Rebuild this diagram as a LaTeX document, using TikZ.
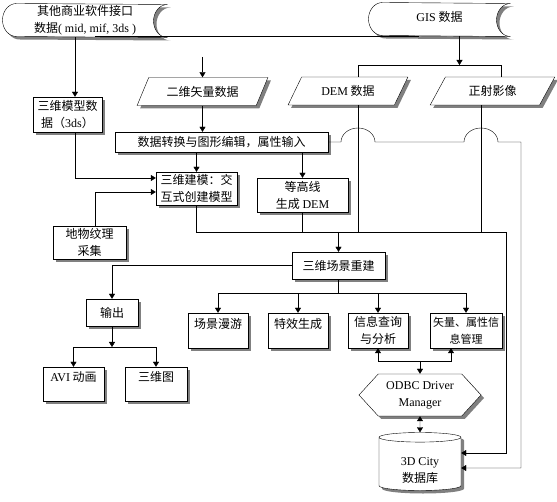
\documentclass[tikz,border=0pt]{standalone}
\usepackage{fontspec}
\setmainfont{Liberation Serif}
\newfontfamily\cjk{Noto Sans CJK SC}
\usetikzlibrary{shapes.geometric,shapes.symbols,shadows,arrows.meta}
\pgfdeclarelayer{bg}
\pgfsetlayers{bg,main}
\newcommand\storedpath[1]{([xshift=14pt]#1.north west) arc[start angle=90,end angle=270,x radius=14pt,y radius=16.5pt] -- (#1.south east) arc[start angle=270,end angle=90,x radius=14pt,y radius=16.5pt] -- cycle}
\newcommand\low[1]{\raisebox{-7pt}[9pt][3pt]{#1}}

\begin{document}
\begin{tikzpicture}[x=1pt,y=-1pt,line width=1pt,
  every node/.style={font=\cjk\fontsize{12}{17}\selectfont, inner sep=0pt, align=center},
  box/.style={draw, fill=white, drop shadow={shadow xshift=3pt, shadow yshift=-3pt, fill=gray, opacity=1}},
  io/.style={box, trapezium, trapezium left angle=55, trapezium right angle=125, trapezium stretches=true, minimum height=28},
  hi/.style={text depth=15pt},
  arr/.style={-{Triangle[width=6pt,length=5pt]}},
  dbl/.style={{Triangle[width=6pt,length=5pt]}-{Triangle[width=6pt,length=5pt]}}]
\useasboundingbox (0,0) rectangle (557,502);

\node[minimum width=164, minimum height=33] (src) at (85,20.5) {其他商业软件接口\\数据\textrm{( mid, mif, 3ds )}};
\node[minimum width=141, minimum height=33, text depth=6pt] (gis) at (439.5,19.5) {\textrm{GIS} 数据};
\begin{pgfonlayer}{bg}
\foreach \n in {src,gis} {
  \fill[gray, transform canvas={shift={(3pt,-3pt)}}] \storedpath{\n};
  \draw[fill=white] \storedpath{\n};
}
\end{pgfonlayer}

\node[box, minimum width=69, minimum height=35] (m3ds) at (67.5,114.5) {三维模型数\\据（\textrm{3ds}）};
\node[io, minimum width=131] (vec) at (202.5,91.5) {二维矢量数据};
\node[io, minimum width=120] (dem) at (348,91) {\textrm{DEM} 数据};
\node[io, minimum width=125] (ortho) at (492.5,91) {正射影像};
\node[box, minimum width=213, minimum height=20] (conv) at (221.5,142) {数据转换与图形编辑，属性输入};
\node[box, minimum width=81, minimum height=33] (model) at (196.5,188.5) {三维建模：交\\互式创建模型};
\node[box, minimum width=91, minimum height=34] (contour) at (302.5,195) {等高线\\生成 \textrm{DEM}};
\node[box, minimum width=73, minimum height=33] (tex) at (89.5,242.5) {地物纹理\\采集};
\node[box, minimum width=93, minimum height=27] (scene) at (338.5,265.5) {三维场景重建};
\node[box, minimum width=52, minimum height=27] (out) at (112,312.5) {输出};
\node[box, hi, minimum width=61, minimum height=34] (avi) at (73.5,384) {\textrm{AVI} 动画};
\node[box, hi, minimum width=62, minimum height=34] (map3d) at (156,384) {三维图};
\node[box, hi, minimum width=60, minimum height=35] (walk) at (218,330.5) {场景漫游};
\node[box, hi, minimum width=60, minimum height=35] (fx) at (298,330.5) {特效生成};
\node[box, minimum width=60, minimum height=35] (query) at (378,330.5) {信息查询\\与分析};
\node[box, minimum width=72, minimum height=35, font=\cjk\fontsize{11}{17}\selectfont] (attr) at (466,330.5) {矢量、属性信\\息管理};
\node[box, signal, signal to=east and west, signal pointer angle=95, minimum width=122, minimum height=42] (odbc) at (420,395) {\textrm{ODBC Driver}\\\textrm{Manager}};
\node[box, cylinder, shape border rotate=90, aspect=0.25, minimum width=82, minimum height=58] (db) at (420,464) {\low{\textrm{3D City}}\\\low{数据库}};

% inputs
\draw[arr] ([xshift=-10pt]src.south) -- ([xshift=-10pt]src.south |- m3ds.north);
\draw ([xshift=10pt]src.south) |- ([xshift=-21pt]gis.south);
\draw[arr] (vec.north |- 0,57) -- (vec.north);
\draw[arr] ([xshift=20pt]gis.south) -- ([xshift=20pt]gis.south |- 0,65);
\draw (dem.north -| 358,0) |- (501,65) -- (ortho.north -| 501,0);
\draw[arr] (vec.south) -- (vec.south |- conv.north);
\draw[arr] ([xshift=7.5pt]m3ds.south) |- ([yshift=10.5pt]model.west);
\draw[arr] ([xshift=5.5pt]tex.north) |- ([yshift=-3.5pt]model.west);
\draw[arr] (model.north |- conv.south) -- (model.north);
\draw[arr] (contour.north |- conv.south) -- (contour.north);
\draw[arr] (conv.east) -- (341,142) arc[start angle=180,end angle=0,x radius=17pt,y radius=14pt] -- (464,142) arc[start angle=180,end angle=0,x radius=17pt,y radius=14pt] -- (521,142) |- (db.east |- 0,468);

% scene
\draw[arr] (model.south) |- (506,232) |- (db.east |- 0,453);
\draw (contour.south) -- (contour.south |- 0,232);
\draw (dem.south -| 358,0) -- (358,232);
\draw (ortho.south -| 481,0) -- (481,232);
\draw[arr] (scene.north |- 0,232) -- (scene.north);
\draw[arr] (scene.west) -| (out.north);
\draw[arr] (out.south) -- (out.south |- 0,347);
\foreach \n in {avi,map3d} \draw[arr] (out.south |- 0,347) -| (\n.north);
\foreach \n in {walk,fx,query,attr} \draw[arr] (scene.south) -- (scene.south |- 0,293) -| (\n.north);

% database
\draw[arr] (odbc.north |- 0,361) -| (query.south);
\draw[arr] (odbc.north |- 0,361) -| ([xshift=-15pt]attr.south);
\draw[arr] (odbc.north |- 0,361) -- (odbc.north);
\draw[dbl] (odbc.south) -- (db.north);
\end{tikzpicture}
\end{document}
